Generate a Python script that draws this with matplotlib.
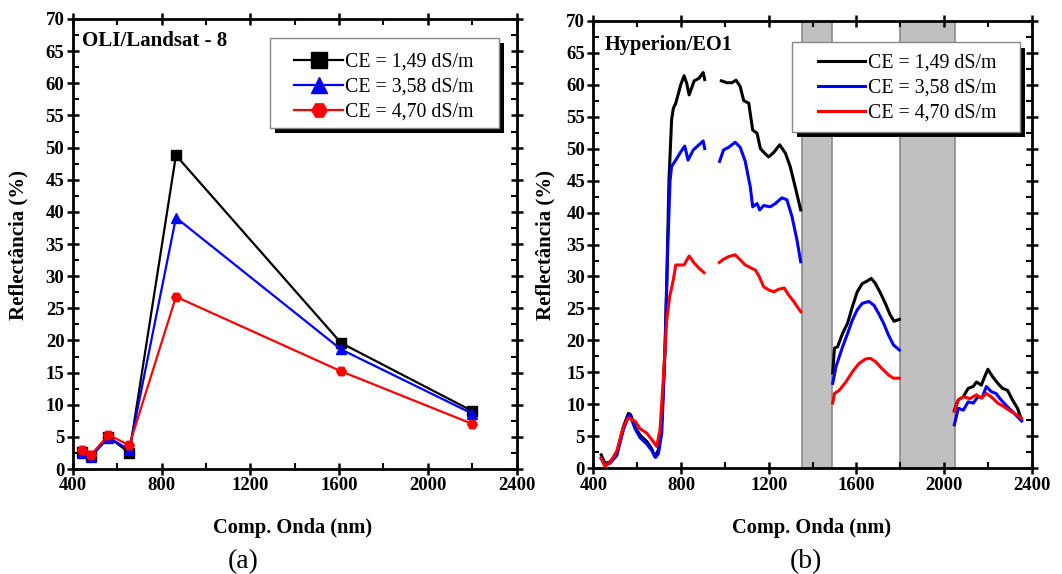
import numpy as np
import matplotlib
matplotlib.use("Agg")
import matplotlib.pyplot as plt
from matplotlib.patches import Rectangle
from matplotlib.ticker import MultipleLocator
from matplotlib.lines import Line2D

plt.rcParams['font.family'] = ['Liberation Serif', 'DejaVu Serif']

# ---------------- data: OLI / Landsat-8 ----------------
oli_wl = [443, 482, 561, 655, 865, 1609, 2201]
oli_ce149 = [2.6, 2.0, 5.0, 2.5, 48.8, 19.6, 9.0]
oli_ce358 = [2.5, 1.9, 4.9, 3.0, 39.1, 18.6, 8.6]
oli_ce470 = [2.9, 2.2, 5.3, 3.7, 26.8, 15.2, 7.0]

labels = ["CE = 1,49 dS/m", "CE = 3,58 dS/m", "CE = 4,70 dS/m"]
colors = ["#000000", "#0000ff", "#ff0000"]

# ---------------- data: Hyperion / EO1 (NaN = gap) ----------------
nan = float('nan')
hyp_wl_149 = [436, 453, 476, 507, 537, 560, 570, 590, 613, 644, 666, 681, 697, 712, 727, 735, 745, 757, 765, 776,
              799, 814, 826, 837, 860, 882, 901, 908, 945,
              984, 1010, 1032, 1051, 1070, 1086, 1109, 1127, 1147, 1162, 1184, 1200, 1223, 1250, 1276, 1298, 1321, 1346, 1420,
              1492, 1500, 1514, 1537, 1560, 1582, 1604, 1627, 1650, 1668, 1687, 1710, 1732, 1754, 1772, 1796, 1920,
              2047, 2065, 2088, 2110, 2133, 2148, 2170, 2185, 2200, 2222, 2245, 2267, 2290, 2312, 2335, 2354]
hyp_ce149 = [2.1, 0.8, 1.0, 2.3, 6.5, 8.6, 8.4, 6.5, 5.2, 4.2, 3.1, 1.8, 2.9, 7.0, 19.0, 29.5, 45.0, 54.5, 56.3, 57.1,
             60.0, 61.4, 60.2, 58.4, 60.6, 61.0, 61.9, 60.8, nan,
             60.6, 60.3, 60.3, 60.7, 59.7, 57.5, 57.1, 52.9, 52.4, 50.0, 49.2, 48.7, 49.4, 50.6, 49.3, 47.2, 44.0, 40.4, nan,
             14.9, 18.8, 19.0, 21.1, 22.7, 25.3, 27.6, 28.9, 29.3, 29.7, 28.9, 27.4, 25.8, 24.0, 23.0, 23.3, nan,
             9.1, 10.7, 11.2, 12.5, 12.8, 13.5, 13.0, 14.3, 15.5, 14.3, 13.3, 12.5, 12.2, 10.7, 9.4, 7.6]

hyp_wl_358 = [436, 453, 476, 507, 537, 560, 568, 590, 613, 644, 666, 684, 697, 712, 727, 740, 750, 757, 776,
              799, 817, 832, 856, 882, 901, 908, 945,
              976, 994, 1017, 1047, 1070, 1093, 1116, 1127, 1147, 1159, 1177, 1207, 1230, 1260, 1283, 1306, 1329, 1346, 1420,
              1492, 1507, 1537, 1560, 1582, 1604, 1627, 1657, 1680, 1702, 1724, 1747, 1769, 1796, 1920,
              2047, 2065, 2088, 2110, 2133, 2155, 2173, 2193, 2215, 2237, 2260, 2290, 2320, 2354]
hyp_ce358 = [1.6, 0.5, 0.8, 2.0, 6.0, 8.2, 8.3, 6.2, 4.8, 3.8, 2.8, 1.7, 2.3, 5.5, 18.0, 35.0, 45.0, 47.2, 48.2,
             49.5, 50.4, 48.2, 49.8, 50.6, 51.2, 50.0, nan,
             48.0, 49.8, 50.2, 51.0, 50.2, 48.0, 44.0, 40.9, 41.4, 40.4, 41.1, 40.9, 41.4, 42.3, 42.0, 39.4, 35.7, 32.3, nan,
             13.3, 15.9, 19.0, 21.1, 23.2, 24.8, 25.8, 26.1, 25.5, 24.2, 22.7, 20.8, 19.3, 18.5, nan,
             6.8, 9.4, 9.1, 10.4, 10.2, 11.2, 11.0, 12.8, 12.0, 11.7, 10.7, 9.6, 8.6, 7.4]

hyp_wl_470 = [436, 453, 480, 507, 537, 560, 590, 613, 644, 673, 689, 704, 719, 735, 748, 765, 776,
              799, 814, 837, 860, 882, 905, 940,
              975, 994, 1017, 1047, 1070, 1093, 1116, 1139, 1154, 1177, 1200, 1223, 1245, 1271, 1291, 1314, 1346, 1420,
              1492, 1500, 1522, 1552, 1582, 1612, 1642, 1664, 1687, 1717, 1747, 1769, 1796, 1920,
              2047, 2065, 2088, 2118, 2148, 2170, 2193, 2215, 2245, 2275, 2305, 2335, 2354]
hyp_ce470 = [1.5, 0.3, 1.1, 2.7, 6.5, 7.9, 7.4, 6.2, 5.5, 4.2, 3.4, 6.0, 13.8, 23.2, 26.8, 29.5, 31.8,
             31.8, 31.8, 33.2, 32.1, 31.3, 30.6, nan,
             32.2, 32.7, 33.1, 33.4, 32.6, 31.8, 31.4, 31.0, 30.2, 28.4, 27.9, 27.6, 28.0, 28.2, 27.1, 26.1, 24.5, nan,
             10.2, 11.7, 12.2, 13.5, 15.1, 16.4, 17.1, 17.2, 16.7, 15.6, 14.6, 14.1, 14.1, nan,
             8.9, 10.7, 11.2, 10.9, 11.5, 11.0, 11.7, 11.2, 10.2, 9.6, 8.9, 8.3, 7.8]

absorption_bands = [(1350, 1490), (1800, 2050)]

# ---------------- figure ----------------
fig = plt.figure(figsize=(10.62, 5.74), dpi=100)
axA = fig.add_axes([0.0685, 0.1829, 0.418, 0.784])
axB = fig.add_axes([0.5587, 0.1841, 0.4128, 0.7798])

TICK_SIZE = 13.5


def style_axis(ax):
    ax.set_xlim(400, 2400)
    ax.set_ylim(0, 70)
    ax.xaxis.set_major_locator(MultipleLocator(400))
    ax.xaxis.set_minor_locator(MultipleLocator(200))
    ax.yaxis.set_major_locator(MultipleLocator(5))
    ax.yaxis.set_minor_locator(MultipleLocator(2.5))
    for s in ax.spines.values():
        s.set_linewidth(2.0)
    ax.tick_params(which='major', direction='inout', length=8, width=1.8,
                   top=True, right=True, labelsize=TICK_SIZE, pad=2)
    ax.tick_params(which='minor', direction='in', length=4, width=1.5,
                   top=True, right=True)
    for lab in ax.get_xticklabels() + ax.get_yticklabels():
        lab.set_fontweight('bold')
        lab.set_fontsize(TICK_SIZE)


def legend_box(ax, x0, y0, x1, y1):
    w, h = x1 - x0, y1 - y0
    ax.add_patch(Rectangle((x0 + 0.012, y0 - 0.012), w, h, transform=ax.transAxes,
                           facecolor='black', edgecolor='none', zorder=8, clip_on=False))
    ax.add_patch(Rectangle((x0, y0), w, h, transform=ax.transAxes,
                           facecolor='white', edgecolor='#888888', linewidth=1.0,
                           zorder=9, clip_on=False))


# ----- panel (a) -----
markers = ['s', '^', 'H']
series_a = [oli_ce149, oli_ce358, oli_ce470]
for vals, c, m, lab in zip(series_a, colors, markers, labels):
    axA.plot(oli_wl, vals, color=c, marker=m, markersize=7, linewidth=1.6, label=lab, zorder=3)
style_axis(axA)
axA.text(0.021, 0.951, "OLI/Landsat - 8", transform=axA.transAxes, fontsize=15,
         fontweight='bold', va='center', ha='left')
legend_box(axA, 0.444, 0.758, 0.960, 0.958)
handles_a = [Line2D([], [], color=c, marker=m, markersize=11, linewidth=1.6)
             for c, m in zip(colors, markers)]
legA = axA.legend(handles_a, labels, loc='upper left', bbox_to_anchor=(0.48, 0.942),
                  frameon=False, fontsize=14.3, handlelength=2.5, handletextpad=0.1,
                  labelspacing=0.3, borderaxespad=0)
legA.set_zorder(10)

# ----- panel (b) -----
for (a, b) in absorption_bands:
    axB.axvspan(a, b, facecolor='#c0c0c0', edgecolor='#8a8a8a', linewidth=1.2, zorder=1)
series_b = [(hyp_wl_149, hyp_ce149), (hyp_wl_358, hyp_ce358), (hyp_wl_470, hyp_ce470)]
for (wl, vals), c, lab in zip(series_b, colors, labels):
    axB.plot(wl, vals, color=c, linewidth=2.2, label=lab, zorder=3)
style_axis(axB)
axB.text(0.027, 0.946, "Hyperion/EO1", transform=axB.transAxes, fontsize=14.7,
         fontweight='bold', va='center', ha='left')
legend_box(axB, 0.453, 0.752, 0.973, 0.952)
handles_b = [Line2D([], [], color=c, linewidth=2.2) for c in colors]
legB = axB.legend(handles_b, labels, loc='upper left', bbox_to_anchor=(0.495, 0.944),
                  frameon=False, fontsize=14.3, handlelength=2.35, handletextpad=0.15,
                  labelspacing=0.3, borderaxespad=0)
legB.set_zorder(10)

# ----- labels -----
for xc, x_ylab in [(293 / 1062, 18 / 1062), (812 / 1062, 545 / 1062)]:
    fig.text(xc, 1 - 528 / 574, "Comp. Onda (nm)", ha='center', va='center',
             fontsize=14.7, fontweight='bold')
    fig.text(x_ylab, 1 - 245 / 574, "Reflectância (%)", ha='center', va='center',
             rotation=90, fontsize=15, fontweight='bold')
fig.text(243 / 1062, 1 - 562 / 574, "(a)", ha='center', va='center', fontsize=20)
fig.text(806 / 1062, 1 - 562 / 574, "(b)", ha='center', va='center', fontsize=20)

fig.savefig("out.png", dpi=100)
